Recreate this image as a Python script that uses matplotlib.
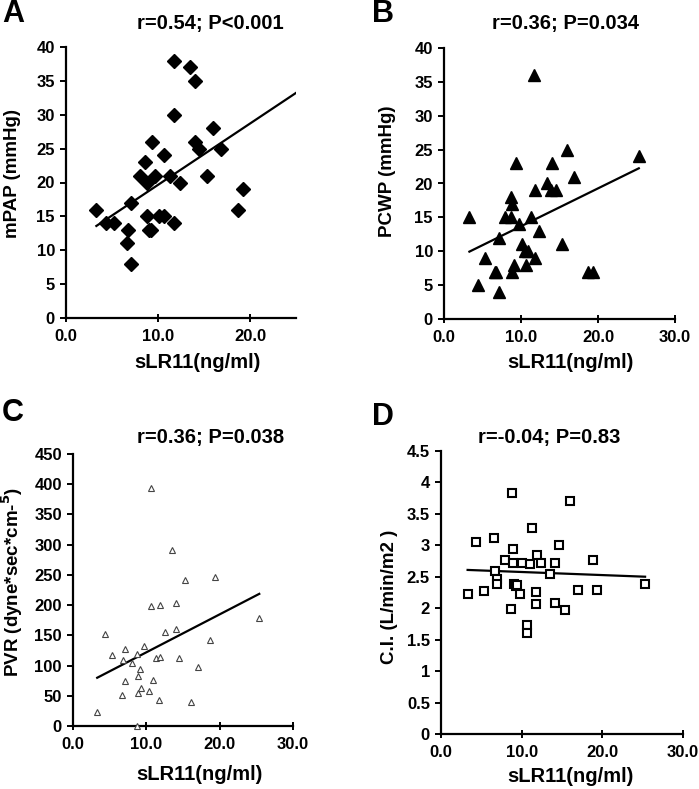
import numpy as np
import matplotlib
matplotlib.use("Agg")
import matplotlib.pyplot as plt

plt.rcParams['font.family'] = ['Liberation Sans', 'DejaVu Sans']
plt.rcParams['font.weight'] = 'bold'

W, H = 699, 789

# sLR11 values read per panel
xA = [3.3, 4.4, 5.2, 6.7, 6.6, 7.05, 7.05, 8.0, 8.6, 8.8, 9.3, 9.7, 8.8, 9.0, 9.2, 10.6,
      10.1, 10.6, 11.3, 11.7, 11.7, 11.75, 12.4, 13.5, 14.0, 14.0, 14.5, 15.3, 16.0, 16.9, 18.7, 19.2]
yA = [16, 14, 14, 13, 11, 8, 17, 21, 23, 20, 26, 21, 15, 13, 13, 24,
      15, 15, 21, 38, 30, 14, 20, 37, 35, 26, 25, 21, 28, 25, 16, 19]

xB = [3.3, 4.4, 5.3, 6.6, 6.8, 7.1, 7.1, 7.9, 8.7, 8.7, 8.8, 8.8, 9.1, 9.3, 9.7, 10.1, 10.5,
      10.6, 10.9, 11.3, 11.7, 11.8, 11.8, 12.4, 13.4, 13.9, 14.0, 14.5, 15.3, 16.0, 16.9, 18.7, 19.3, 25.3]
yB = [15, 5, 9, 7, 7, 12, 4, 15, 15, 18, 17, 7, 8, 23, 14, 11, 10,
      8, 10, 15, 36, 19, 9, 13, 20, 19, 23, 19, 11, 25, 21, 7, 7, 24]

xC = [3.3, 4.4, 5.3, 6.7, 6.8, 7.1, 7.1, 8.1, 8.7, 8.8, 8.9, 8.7, 9.2, 9.3, 9.7, 10.3, 10.6,
      10.7, 10.9, 11.3, 11.8, 11.7, 11.9, 12.5, 13.5, 14.1, 14.1, 14.5, 15.3, 16.1, 17.0, 18.7, 19.3, 25.4]
yC = [23, 152, 117, 52, 110, 128, 74, 105, 119, 54, 82, 0, 95, 63, 133, 58, 198,
      393, 76, 112, 114, 43, 201, 156, 291, 203, 160, 112, 242, 39, 98, 142, 247, 178]

xD = [3.3, 4.4, 5.3, 6.6, 6.7, 6.95, 6.95, 7.9, 8.7, 8.8, 8.9, 8.9, 9.0, 9.3, 9.4, 9.8, 10.1, 10.6,
      10.6, 11.0, 11.3, 11.75, 11.8, 11.9, 12.45, 13.5, 14.1, 14.1, 14.6, 15.4, 16.0, 17.0, 18.8, 19.3, 25.3]
yD = [2.23, 3.05, 2.28, 3.11, 2.59, 2.47, 2.38, 2.76, 1.99, 3.83, 2.94, 2.72, 2.38, 2.36, 2.37, 2.23, 2.72, 1.74,
      1.61, 2.71, 3.27, 2.26, 2.07, 2.85, 2.72, 2.55, 2.09, 2.72, 3.0, 1.97, 3.7, 2.29, 2.76, 2.29, 2.38]

# trend lines (slope, intercept)
fits = {'A': (0.905, 10.6), 'B': (0.559, 8.1), 'C': (6.28, 59.1), 'D': (-0.0049, 2.625)}

titles = {'A': 'r=0.54; P<0.001', 'B': 'r=0.36; P=0.034',
          'C': 'r=0.36; P=0.038', 'D': 'r=-0.04; P=0.83'}
ylabels = {'A': 'mPAP (mmHg)', 'B': 'PCWP (mmHg)',
           'C': r'PVR (dyne*sec*cm-$^{\mathbf{5}}$)', 'D': 'C.I. (L/min/m2 )'}

fig = plt.figure(figsize=(W / 100, H / 100), dpi=100)


def fx(x):
    return x / W


def fy(y):
    return 1 - y / H


def panel(key, rect, x, y, xmax, ymax, ystep, xticks, marker, ms, fc, ec, mew,
          title_xy, letter_xy, xlab_xy, ylab_xy):
    l, t, r, b = rect
    ax = fig.add_axes([fx(l), fy(b), (r - l) / W, (b - t) / H])
    ax.plot(x, y, linestyle='none', marker=marker, ms=ms, mfc=fc, mec=ec, mew=mew, clip_on=False, zorder=3)
    k, c = fits[key]
    xl = np.array([min(x), max(max(x), 25.3)])
    ax.plot(xl, k * xl + c, color='black', lw=1.6, zorder=2)
    ax.set_xlim(0, xmax)
    ax.set_ylim(0, ymax)
    ax.set_xticks(xticks)
    ax.set_xticklabels([f'{v:.1f}' for v in xticks])
    yt = np.arange(0, ymax + ystep / 2, ystep)
    ax.set_yticks(yt)
    ax.set_yticklabels([f'{v:g}' for v in yt])
    for s in ['top', 'right']:
        ax.spines[s].set_visible(False)
    for s in ['left', 'bottom']:
        ax.spines[s].set_linewidth(1.6)
    ax.tick_params(length=4, width=1.4, labelsize=12)
    ax.tick_params(axis='x', direction='inout', length=6, pad=5)
    ax.tick_params(axis='y', direction='out', pad=4)
    fig.text(fx(title_xy[0]), fy(title_xy[1]), titles[key], ha='center', va='center',
             fontsize=14.5, fontweight='bold')
    fig.text(fx(letter_xy[0]), fy(letter_xy[1]), key, ha='left', va='center',
             fontsize=22, fontweight='bold')
    fig.text(fx(xlab_xy[0]), fy(xlab_xy[1]), 'sLR11(ng/ml)', ha='center', va='center',
             fontsize=14.5, fontweight='bold')
    fig.text(fx(ylab_xy[0]), fy(ylab_xy[1]), ylabels[key], ha='center', va='center',
             rotation=90, fontsize=13.5, fontweight='bold')
    return ax


panel('A', (66, 47, 296, 318), xA, yA, 25, 40, 5, [0, 10, 20], 'D', 7, 'black', 'black', 1,
      (210, 23), (2, 14), (197, 362), (13, 173))
panel('B', (444, 48, 675, 319), xB, yB, 30, 40, 5, [0, 10, 20, 30], '^', 9, 'black', 'black', 1,
      (565, 23), (372, 14), (570, 362), (388, 171))
panel('C', (73, 454, 293, 726), xC, yC, 30, 450, 50, [0, 10, 20, 30], '^', 5, 'white', '#444444', 0.8,
      (211, 437), (2, 413), (199, 775), (12, 582))
panel('D', (441, 451, 683, 734), xD, yD, 30, 4.5, 0.5, [0, 10, 20, 30], 's', 5.5, 'white', 'black', 1.5,
      (549, 437), (372, 417), (570, 776), (389, 597))

fig.savefig('out.png', dpi=100)
